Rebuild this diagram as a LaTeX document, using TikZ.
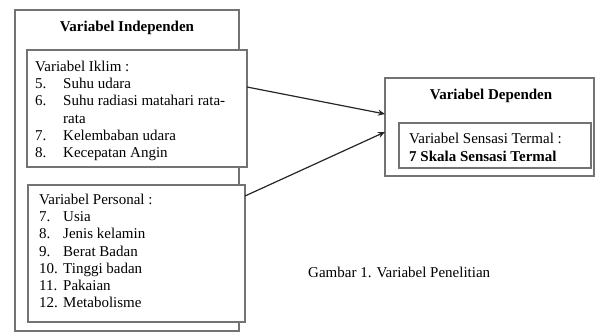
\documentclass[tikz,border=0pt]{standalone}
\usepackage{fontspec}
\setmainfont{Liberation Serif}
\usetikzlibrary{arrows.meta}
\tikzset{
  boxline/.style={draw=black!55, line width=1.3pt, fill=white, rectangle, anchor=north west, inner sep=0pt, outer sep=0pt},
  txt/.style={anchor=base west, inner sep=0pt, font=\fontsize{15}{17.2}\selectfont},
  ctr/.style={anchor=base, inner sep=0pt, font=\fontsize{15}{17.2}\selectfont\bfseries},
  conn/.style={draw=black!85, line width=1.2pt, -{Stealth[length=7pt,width=6pt]}}
}
\begin{document}
\begin{tikzpicture}[x=1pt,y=-1pt]
\useasboundingbox (0,0) rectangle (598,333);
% boxes
\node[boxline, minimum width=224pt, minimum height=321pt] (indep) at (15,10) {};
\node[boxline, minimum width=220pt, minimum height=117pt] (iklim) at (27,50) {};
\node[boxline, minimum width=217pt, minimum height=137pt] (personal) at (28,185) {};
\node[boxline, minimum width=209pt, minimum height=98pt] (dep) at (385,78) {};
\node[boxline, minimum width=192pt, minimum height=45pt] (sens) at (399,123) {};
% texts
\node[ctr] (tind) at (127,31) {Variabel Independen};
\node[txt] (tik) at (35,71.5) {\begin{tabular}[t]{@{}l@{}}
Variabel Iklim :\\
\makebox[28pt][l]{5.}Suhu udara\\
\makebox[28pt][l]{6.}Suhu radiasi matahari rata-\\
\hspace*{28pt}rata\\
\makebox[28pt][l]{7.}Kelembaban udara\\
\makebox[28pt][l]{8.}Kecepatan Angin
\end{tabular}};
\node[txt] (tper) at (39,204.5) {\begin{tabular}[t]{@{}l@{}}
Variabel Personal :\\
\makebox[24pt][l]{7.}Usia\\
\makebox[24pt][l]{8.}Jenis kelamin\\
\makebox[24pt][l]{9.}Berat Badan\\
\makebox[24pt][l]{10.}Tinggi badan\\
\makebox[24pt][l]{11.}Pakaian\\
\makebox[24pt][l]{12.}Metabolisme
\end{tabular}};
\node[ctr] (tdep) at (491,99.5) {Variabel Dependen};
\node[txt, font=\fontsize{15}{18}\selectfont] (tsens) at (409,143.5) {\begin{tabular}[t]{@{}l@{}}
Variabel Sensasi Termal :\\
\textbf{7 Skala Sensasi Termal}
\end{tabular}};
\node[txt] (cap) at (308,277.5) {Gambar 1. Variabel Penelitian};
% connectors
\coordinate (a1s) at (247,87);
\coordinate (a1e) at (385,114);
\coordinate (a2s) at (245,196);
\coordinate (a2e) at (385,132);
\draw[conn] (iklim.east |- a1s) -- (dep.west |- a1e);
\draw[conn] (personal.east |- a2s) -- (dep.west |- a2e);
\end{tikzpicture}
\end{document}
